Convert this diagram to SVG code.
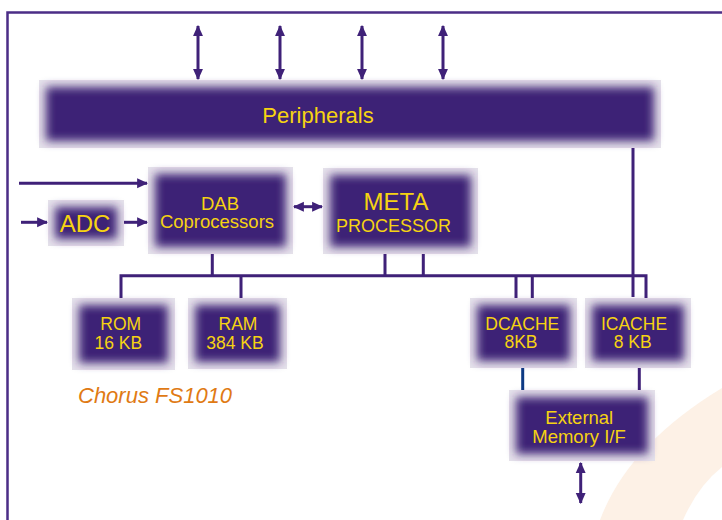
<svg xmlns="http://www.w3.org/2000/svg" width="722" height="520" viewBox="0 0 722 520">
<defs>
<style>
.bg{fill:#e6e2eb}
.core{fill:#3e2176;filter:url(#soft)}
.t{font-family:"Liberation Sans",Arial,sans-serif;fill:#f6d312;text-anchor:middle}
.ln{stroke:#3f2178;stroke-width:3;fill:none}
.ar{stroke:#3f2178;stroke-width:3;fill:none;marker-end:url(#ah)}
.ar2{stroke:#3f2178;stroke-width:3;fill:none;marker-end:url(#ah);marker-start:url(#ah)}
</style>
<filter id="soft" x="-30%" y="-60%" width="160%" height="220%"><feGaussianBlur stdDeviation="5"/></filter>
<marker id="ah" viewBox="0 0 10 10" refX="9" refY="5" markerWidth="11" markerHeight="11" markerUnits="userSpaceOnUse" orient="auto-start-reverse"><path d="M0,0.5 L10,5 L0,9.5 Z" fill="#3f2178"/></marker>
</defs>
<rect width="722" height="520" fill="#ffffff"/>
<path d="M600,520 Q628,445 722,388 L722,467 Q698,486 683,520 Z" fill="#fdf1e6"/>
<path d="M7.5,520 V12.5 H722" stroke="#4b2d86" stroke-width="2.5" fill="none"/>

<g id="connectors">
<line class="ar2" x1="198" y1="26" x2="198" y2="79"/>
<line class="ar2" x1="280" y1="26" x2="280" y2="79"/>
<line class="ar2" x1="362" y1="26" x2="362" y2="79"/>
<line class="ar2" x1="443" y1="26" x2="443" y2="79"/>
<line class="ar" x1="19" y1="183.3" x2="147" y2="183.3"/>
<line class="ar" x1="21" y1="222.3" x2="47" y2="222.3"/>
<line class="ar" x1="124" y1="222.3" x2="147" y2="222.3"/>
<line class="ar2" x1="294" y1="206.7" x2="322" y2="206.7"/>
<line class="ar2" x1="580.7" y1="463" x2="580.7" y2="503"/>
<path class="ln" d="M633,148 V297"/>
<path class="ln" d="M121,298 V275.7 H646 V298"/>
<path class="ln" d="M212.3,254 V275.7 M385,254 V275.7 M423.3,254 V275.7 M241,275.7 V298 M516,275.7 V298 M532.3,275.7 V298"/>
<path d="M522.7,368 V390" stroke="#0d3a84" stroke-width="3"/>
<path class="ln" d="M639.3,368 V390"/>
</g>

<g id="peripherals">
<rect class="bg" x="39" y="80" width="622" height="68"/>
<rect class="core" x="46" y="87" width="608" height="54"/>
<text class="t" x="318" y="122.7" font-size="22">Peripherals</text>
</g>
<g id="adc">
<rect class="bg" x="48" y="200" width="76" height="46"/>
<rect class="core" x="55" y="207" width="62" height="32"/>
<text class="t" x="85" y="231.7" font-size="24">ADC</text>
</g>
<g id="dab">
<rect class="bg" x="148" y="167" width="145" height="87"/>
<rect class="core" x="155" y="174" width="131" height="73"/>
<text class="t" x="220" y="210" font-size="18.5">DAB</text>
<text class="t" x="217" y="228" font-size="18.5">Coprocessors</text>
</g>
<g id="meta">
<rect class="bg" x="323" y="168" width="155" height="86"/>
<rect class="core" x="330" y="175" width="141" height="72"/>
<text class="t" x="396" y="210" font-size="24">META</text>
<text class="t" x="393.5" y="232" font-size="18">PROCESSOR</text>
</g>
<g id="rom">
<rect class="bg" x="72" y="298" width="103" height="72"/>
<rect class="core" x="79" y="305" width="89" height="58"/>
<text class="t" x="120.7" y="330" font-size="17.5">ROM</text>
<text class="t" x="118.3" y="349" font-size="17.5">16 KB</text>
</g>
<g id="ram">
<rect class="bg" x="188" y="298" width="99" height="71"/>
<rect class="core" x="195" y="305" width="85" height="57"/>
<text class="t" x="238" y="330" font-size="17.5">RAM</text>
<text class="t" x="235" y="349" font-size="17.5">384 KB</text>
</g>
<g id="dcache">
<rect class="bg" x="470" y="298" width="107" height="70"/>
<rect class="core" x="477" y="305" width="93" height="56"/>
<text class="t" x="522.3" y="330" font-size="17.5">DCACHE</text>
<text class="t" x="521" y="348.3" font-size="17.5">8KB</text>
</g>
<g id="icache">
<rect class="bg" x="585" y="298" width="106" height="70"/>
<rect class="core" x="592" y="305" width="92" height="56"/>
<text class="t" x="634" y="330" font-size="17.5">ICACHE</text>
<text class="t" x="632.7" y="348.3" font-size="17.5">8 KB</text>
</g>
<g id="extmem">
<rect class="bg" x="509" y="390" width="146" height="71"/>
<rect class="core" x="516" y="397" width="132" height="57"/>
<text class="t" x="579.3" y="424" font-size="18.5">External</text>
<text class="t" x="579" y="442.7" font-size="18.5">Memory I/F</text>
</g>
<g id="caption">
<text x="78" y="403" font-family="Liberation Sans,Arial,sans-serif" font-style="italic" font-size="22" fill="#e07a14">Chorus FS1010</text>
</g>
</svg>
